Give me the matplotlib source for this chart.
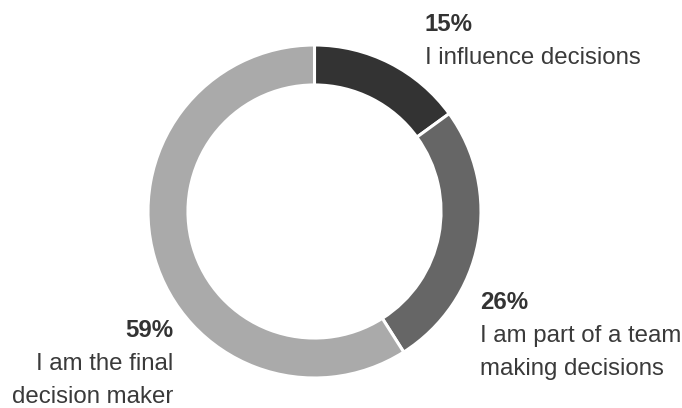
import matplotlib
matplotlib.use("Agg")
import matplotlib.pyplot as plt

categories = ["I influence decisions", "I am part of a team\nmaking decisions", "I am the final\ndecision maker"]
values = [15, 26, 59]
colors = ["#333333", "#666666", "#aaaaaa"]

plt.rcParams['font.family'] = ['Liberation Sans', 'DejaVu Sans']

W, H = 682, 408
fig = plt.figure(figsize=(W / 100, H / 100), dpi=100)
fig.patch.set_facecolor("white")

cx, cy, r = 314.5, 211.5, 166.5  # pixel coords (y from top)
ax = fig.add_axes([(cx - r) / W, (H - cy - r) / H, 2 * r / W, 2 * r / H])
ax.pie(values, colors=colors, startangle=90, counterclock=False, radius=1,
       wedgeprops=dict(width=0.24, edgecolor="white", linewidth=2.2))
ax.set_xlim(-1, 1)
ax.set_ylim(-1, 1)
ax.set_aspect("equal")
ax.axis("off")

# label layout: (x pixel, baseline of first line, ha)
layout = [(425, 31, "left"), (480, 309, "left"), (173, 337, "right")]
line_gap = 33
fs = 17.3
for (x, y0, ha), cat, v in zip(layout, categories, values):
    fig.text(x / W, (H - y0) / H, f"{v}%", ha=ha, va="baseline",
             fontsize=fs, fontweight="bold", color="#333333")
    for i, line in enumerate(cat.split("\n")):
        fig.text(x / W, (H - (y0 + line_gap * (i + 1))) / H, line, ha=ha,
                 va="baseline", fontsize=fs, color="#3a3a3a")

fig.savefig("out.png", dpi=100, facecolor="white")
